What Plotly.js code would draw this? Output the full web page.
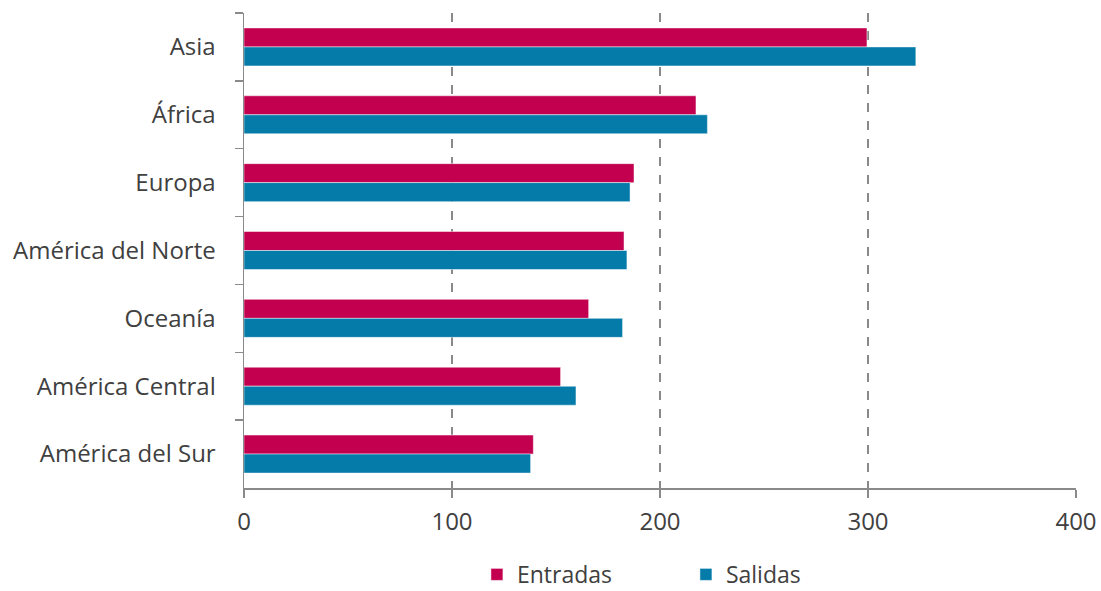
<!DOCTYPE html>
<html>
<head>
<meta charset="utf-8">
<script src="https://cdn.plot.ly/plotly-3.0.1.min.js"></script>
<style>html,body{margin:0;padding:0;background:#fff;}#chart{width:1101px;height:591px;}</style>
</head>
<body>
<div id="chart"></div>
<script>
const categories = ["Asia", "África", "Europa", "América del Norte", "Oceanía", "América Central", "América del Sur"];
const entradas = [299.5, 217.3, 187.5, 182.7, 165.7, 152.2, 139.1];
const salidas = [323, 222.8, 185.6, 184.1, 182, 159.6, 137.8];
const xTicks = [0, 100, 200, 300, 400];

const traces = [
  {type: 'bar', orientation: 'h', name: 'Entradas', y: categories, x: entradas,
   marker: {color: '#C2004F', line: {color: 'rgba(255,255,255,0.6)', width: 0.8}}},
  {type: 'bar', orientation: 'h', name: 'Salidas', y: categories, x: salidas,
   marker: {color: '#047BA8', line: {color: 'rgba(255,255,255,0.6)', width: 0.8}}}
];

const layout = {
  width: 1101, height: 591,
  margin: {l: 244, r: 25, t: 13, b: 103, autoexpand: false},
  paper_bgcolor: '#fff', plot_bgcolor: '#fff',
  font: {family: 'Open Sans, sans-serif', size: 24, color: '#404040'},
  barmode: 'group', bargap: 0.44, bargroupgap: 0,
  showlegend: true,
  legend: {orientation: 'h', xref: 'container', x: 0.623, xanchor: 'center',
           yref: 'container', y: 0.028, yanchor: 'middle',
           font: {size: 23, color: '#404040'}, entrywidth: 164, entrywidthmode: 'pixels',
           itemwidth: 30},
  xaxis: {range: [0, 400], tickvals: xTicks, ticktext: xTicks.map(String),
          showgrid: true, gridcolor: '#8a8a8a', griddash: 'dash', gridwidth: 1.5,
          zeroline: false, showline: true, linecolor: '#8a8a8a', linewidth: 1.5,
          ticks: 'outside', ticklen: 8, tickcolor: '#8a8a8a', tickwidth: 1.5,
          ticklabelstandoff: 4, fixedrange: true},
  yaxis: {autorange: 'reversed', type: 'category', tickson: 'boundaries',
          showgrid: false, zeroline: false, showline: true, linecolor: '#8a8a8a', linewidth: 1.5,
          ticks: 'outside', ticklen: 8, tickcolor: '#8a8a8a', tickwidth: 1.5,
          ticklabelstandoff: 22, fixedrange: true}
};

Plotly.newPlot('chart', traces, layout, {displayModeBar: false, staticPlot: true});
</script>
</body>
</html>
